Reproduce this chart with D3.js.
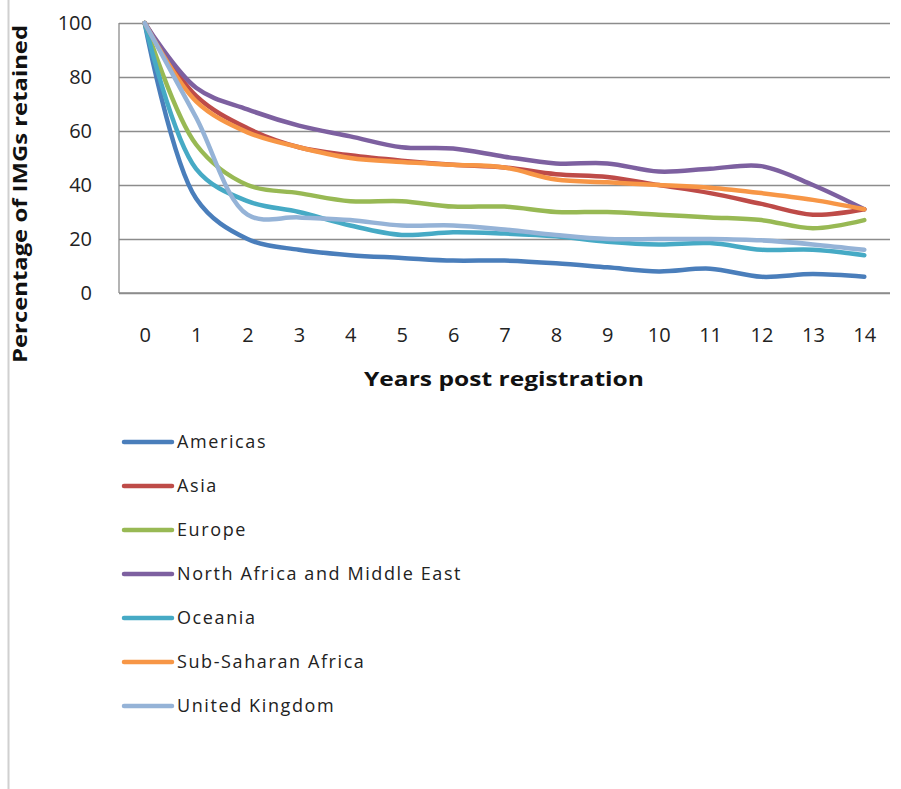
<!DOCTYPE html>
<html>
<head>
<meta charset="utf-8">
<script src="https://cdn.jsdelivr.net/npm/d3@7"></script>
<style>
  html, body { margin: 0; padding: 0; background: #fff; }
  svg { display: block; }
  text { font-family: "Open Sans", "Liberation Sans", Arial, sans-serif; }
</style>
</head>
<body>
<svg id="chart" width="901" height="789"></svg>
<script>
// Retention of IMGs by region of qualification, years 0–14 after registration
const years = [0, 1, 2, 3, 4, 5, 6, 7, 8, 9, 10, 11, 12, 13, 14];
const yTicks = [0, 20, 40, 60, 80, 100];

const regions = ["Americas", "Asia", "Europe", "North Africa and Middle East",
                 "Oceania", "Sub-Saharan Africa", "United Kingdom"];

const americas = [100, 35, 20, 16, 14, 13, 12, 12, 11, 9.5, 8, 9, 6, 7, 6];
const asia     = [100, 73, 61, 54, 51, 49, 47.5, 46.5, 44, 43, 40, 37, 33, 29, 31];
const europe   = [100, 55, 40, 37, 34, 34, 32, 32, 30, 30, 29, 28, 27, 24, 27];
const northAfricaMiddleEast = [100, 76, 68, 62, 58, 54, 53.5, 50.5, 48, 48, 45, 46, 47, 40, 31];
const oceania  = [100, 46, 34, 30, 25, 21.5, 22.5, 22, 21, 19, 18, 18.5, 16, 16, 14];
const subSaharanAfrica = [100, 71, 59.5, 54, 50, 48.5, 47.5, 46.5, 42, 41, 40, 39, 37, 34.5, 31];
const unitedKingdom = [100, 65, 29, 28, 27, 25, 25, 23.5, 21.5, 20, 20, 20, 19.5, 18, 16];

const seriesValues = [americas, asia, europe, northAfricaMiddleEast,
                      oceania, subSaharanAfrica, unitedKingdom];
const colors = ["#4A7EBB", "#BE4B48", "#98B954", "#7D60A0", "#46AAC5", "#F79646", "#95B3D7"];

const svg = d3.select("#chart");

// page frame line on the left
svg.append("line")
  .attr("x1", 8.5).attr("x2", 8.5).attr("y1", 0).attr("y2", 789)
  .attr("stroke", "#d0d0d0").attr("stroke-width", 2);

const plotLeft = 119, plotRight = 890, plotTop = 23, plotBottom = 293;

const x = d3.scalePoint().domain(years).range([plotLeft, plotRight]).padding(0.5);
const y = d3.scaleLinear().domain([0, 100]).range([plotBottom, plotTop]);

// y axis with gridlines
const yAxis = svg.append("g")
  .attr("transform", `translate(${plotLeft},0)`)
  .call(d3.axisLeft(y).tickValues(yTicks).tickSize(-(plotRight - plotLeft)).tickPadding(27));
yAxis.select(".domain").remove();
yAxis.selectAll(".tick line").attr("stroke", "#8c8c8c").attr("stroke-width", 1.3);
yAxis.selectAll(".tick text").attr("font-size", 20).attr("fill", "#222");

// vertical axis line
svg.append("line").attr("x1", plotLeft).attr("x2", plotLeft).attr("y1", plotTop).attr("y2", plotBottom)
  .attr("stroke", "#8c8c8c").attr("stroke-width", 1.3);

const xAxis = svg.append("g")
  .attr("transform", `translate(0,${plotBottom})`)
  .call(d3.axisBottom(x).tickSize(0).tickPadding(35));
xAxis.select(".domain").attr("stroke", "#8c8c8c").attr("stroke-width", 1.3)
  .attr("d", `M${plotLeft},0H${plotRight}`);
xAxis.selectAll(".tick text").attr("font-size", 20).attr("fill", "#222");

// axis titles
svg.append("text")
  .attr("x", 504).attr("y", 386)
  .attr("text-anchor", "middle")
  .attr("font-size", 20).attr("font-weight", "bold").attr("fill", "#111")
  .attr("textLength", 280).attr("lengthAdjust", "spacingAndGlyphs")
  .text("Years post registration");

svg.append("text")
  .attr("transform", "translate(27,194) rotate(-90)")
  .attr("text-anchor", "middle")
  .attr("font-size", 19).attr("font-weight", "bold").attr("fill", "#111")
  .attr("textLength", 338).attr("lengthAdjust", "spacingAndGlyphs")
  .text("Percentage of IMGs retained");

// series lines
const line = d3.line()
  .x((d, i) => x(years[i]))
  .y(d => y(d))
  .curve(d3.curveCatmullRom.alpha(0.5));

svg.append("g").selectAll("path")
  .data(seriesValues)
  .join("path")
  .attr("d", d => line(d))
  .attr("fill", "none")
  .attr("stroke", (d, i) => colors[i])
  .attr("stroke-width", 4.5)
  .attr("stroke-linejoin", "round")
  .attr("stroke-linecap", "round");

// legend
const legend = svg.append("g").selectAll("g")
  .data(regions)
  .join("g")
  .attr("transform", (d, i) => `translate(0,${442 + i * 44})`);

legend.append("line")
  .attr("x1", 124).attr("x2", 172).attr("y1", 0).attr("y2", 0)
  .attr("stroke", (d, i) => colors[i]).attr("stroke-width", 4.5)
  .attr("stroke-linecap", "round");

legend.append("text")
  .attr("x", 177).attr("y", 0).attr("dy", "0.36em")
  .attr("font-size", 18).attr("fill", "#222")
  .attr("letter-spacing", 1.6)
  .text(d => d);
</script>
</body>
</html>
